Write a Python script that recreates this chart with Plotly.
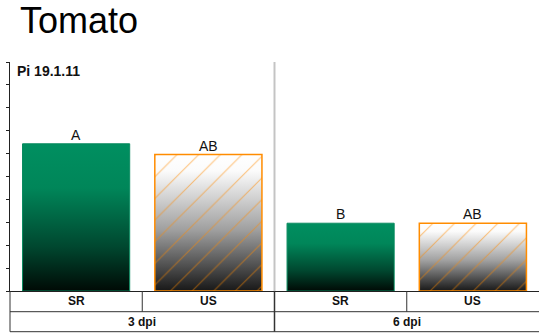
import base64
import plotly.graph_objects as go

# ---- data ----
title_text = "Tomato"
panel_label = "Pi 19.1.11"
treatments = ["SR", "US", "SR", "US"]
timepoints = ["3 dpi", "3 dpi", "6 dpi", "6 dpi"]
group_labels = ["3 dpi", "6 dpi"]
values = [6.43, 5.96, 2.96, 2.96]
letters = ["A", "AB", "B", "AB"]
y_ticks = list(range(0, 11))

x_pos = list(range(len(values)))
BAR_W = 0.81
FONT = "Liberation Sans, Arial"


def svg_uri(stops):
    st = "".join(f"<stop offset='{o}' stop-color='{c}'/>" for o, c in stops)
    svg = ("<svg xmlns='http://www.w3.org/2000/svg' width='10' height='100' "
           "viewBox='0 0 10 100' preserveAspectRatio='none'><defs>"
           "<linearGradient id='g' x1='0' y1='0' x2='0' y2='1'>" + st +
           "</linearGradient></defs><rect width='10' height='100' fill='url(#g)'/></svg>")
    return "data:image/svg+xml;base64," + base64.b64encode(svg.encode()).decode()


green_grad = svg_uri([(0, "#008f60"), (0.3, "#008659"), (0.7, "#00472f"), (1, "#000a05")])
gray_grad = svg_uri([(0, "#ffffff"), (0.12, "#fbfbfb"), (0.55, "#a0a0a0"), (1, "#181818")])

fig = go.Figure()

sr_x = [x for x, t in zip(x_pos, treatments) if t == "SR"]
sr_y = [v for v, t in zip(values, treatments) if t == "SR"]
us_x = [x for x, t in zip(x_pos, treatments) if t == "US"]
us_y = [v for v, t in zip(values, treatments) if t == "US"]

fig.add_trace(go.Bar(
    x=sr_x, y=sr_y, width=BAR_W,
    marker=dict(color="rgba(0,0,0,0)", line=dict(color="#00875a", width=1)),
    showlegend=False, hoverinfo="skip"))
fig.add_trace(go.Bar(
    x=us_x, y=us_y, width=BAR_W,
    marker=dict(color="rgba(0,0,0,0)", line=dict(color="#ff8c00", width=1.5),
                pattern=dict(shape="/", fgcolor="#ff8800", bgcolor="rgba(0,0,0,0)",
                             size=15.3, solidity=0.07, fillmode="overlay")),
    showlegend=False, hoverinfo="skip"))

images = []
for x, v, t in zip(x_pos, values, treatments):
    images.append(dict(source=green_grad if t == "SR" else gray_grad,
                       xref="x", yref="y", x=x - BAR_W / 2, y=v,
                       sizex=BAR_W, sizey=v, xanchor="left", yanchor="top",
                       sizing="stretch", layer="below"))

annotations = []
for x, v, lab in zip(x_pos, values, letters):
    annotations.append(dict(x=x, y=v, xref="x", yref="y", text=lab, showarrow=False,
                            yanchor="bottom", yshift=-1,
                            font=dict(family=FONT, size=14, color="#111")))

# table geometry (paper y below axis)
PH = 229.0
row1 = -20.7 / PH
row2 = -40.7 / PH
for x, t in zip(x_pos, treatments):
    annotations.append(dict(x=x, y=(0 + row1) / 2, xref="x", yref="paper", text=f"<b>{t}</b>",
                            showarrow=False, yanchor="middle",
                            font=dict(family=FONT, size=12, color="#111")))
for gi, g in enumerate(group_labels):
    annotations.append(dict(x=gi * 2 + 0.5, y=(row1 + row2) / 2, xref="x", yref="paper",
                            text=f"<b>{g}</b>", showarrow=False, yanchor="middle",
                            font=dict(family=FONT, size=12, color="#111")))

annotations.append(dict(x=0, y=1, xref="paper", yref="paper", text=f"<b>{panel_label}</b>",
                        showarrow=False, xanchor="left", yanchor="top", xshift=5, yshift=1,
                        font=dict(family=FONT, size=14, color="#111")))

annotations.append(dict(x=0, y=(291 - 20) / PH, xref="paper", yref="paper", text=title_text,
                        showarrow=False, xanchor="left", yanchor="middle", xshift=8,
                        font=dict(family=FONT, size=36, color="#000")))

line_col = "#333333"
shapes = [
    dict(type="line", xref="x", yref="paper", x0=1.5, x1=1.5, y0=0, y1=1,
         line=dict(color="#c4c4c4", width=2), layer="below"),
    dict(type="line", xref="paper", yref="paper", x0=0, x1=1, y0=row1, y1=row1,
         line=dict(color=line_col, width=1)),
    dict(type="line", xref="paper", yref="paper", x0=0, x1=1, y0=row2, y1=row2,
         line=dict(color=line_col, width=1)),
    dict(type="line", xref="paper", yref="paper", x0=0, x1=0, y0=row2, y1=0,
         line=dict(color=line_col, width=1)),
    dict(type="line", xref="x", yref="paper", x0=1.5, x1=1.5, y0=row2, y1=0,
         line=dict(color=line_col, width=1.5)),
    dict(type="line", xref="x", yref="paper", x0=0.5, x1=0.5, y0=row1, y1=0,
         line=dict(color=line_col, width=1)),
    dict(type="line", xref="x", yref="paper", x0=2.5, x1=2.5, y0=row1, y1=0,
         line=dict(color=line_col, width=1)),
]

fig.update_layout(
    width=539, height=335,
    margin=dict(l=10, r=0, t=62, b=44),
    paper_bgcolor="white", plot_bgcolor="white",
    xaxis=dict(range=[-0.5, 3.5], showgrid=False, zeroline=False, showticklabels=False,
               ticks="", showline=True, linecolor="#222", linewidth=1, fixedrange=True),
    yaxis=dict(range=[0, 10], tickvals=y_ticks, showticklabels=False, ticks="outside",
               ticklen=3, tickcolor="#222", tickwidth=1, showgrid=False, zeroline=False,
               showline=True, linecolor="#222", linewidth=1, fixedrange=True),
    barmode="overlay",
    images=images, annotations=annotations, shapes=shapes,
)

fig.write_html("out.html")
